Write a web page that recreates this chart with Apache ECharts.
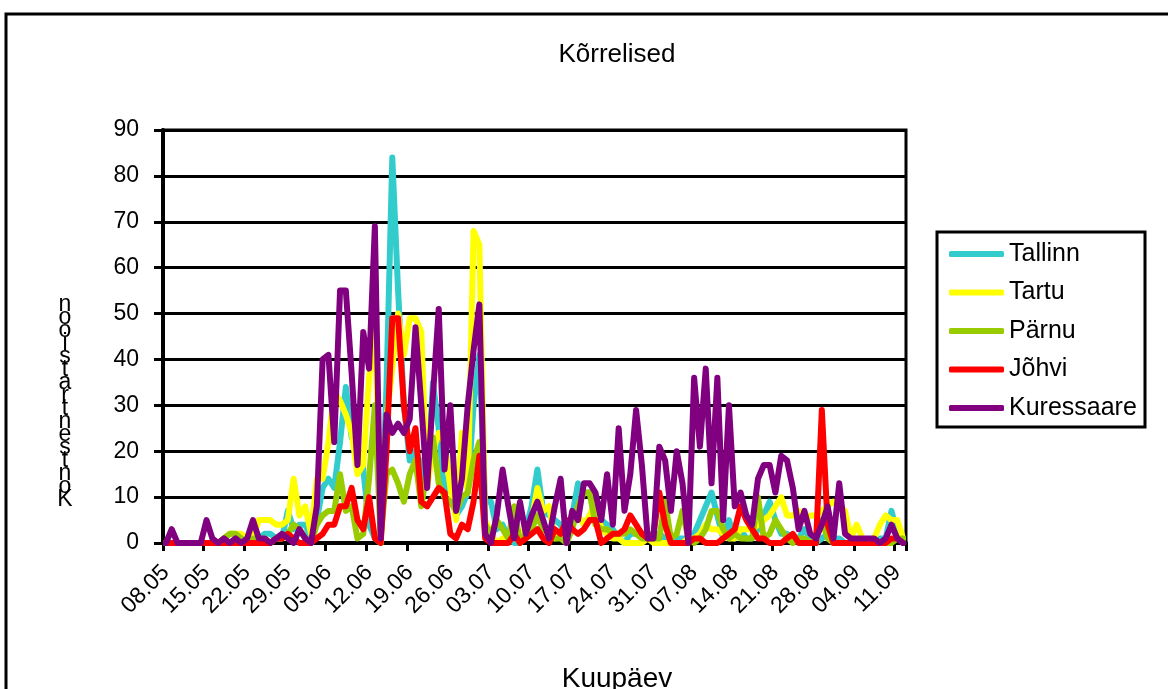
<!DOCTYPE html>
<html>
<head>
<meta charset="utf-8">
<script src="https://cdn.jsdelivr.net/npm/echarts@6/dist/echarts.min.js"></script>
<style>
  html, body { margin: 0; padding: 0; background: #fff; }
  #chart { width: 1168px; height: 689px; }
</style>
</head>
<body>
<div id="chart"></div>
<script>
// Daily grass pollen counts, 08.05 – 12.09
const firstDay = 8, firstMonth = 5, dayCount = 128;
const monthLengths = { 5: 31, 6: 30, 7: 31, 8: 31, 9: 30 };

const chartTitle = 'Kõrrelised';
const xAxisTitle = 'Kuupäev';
const yAxisTitle = 'Kontsentratsioon';
const yTicks = { min: 0, max: 90, step: 10 };

const seriesNames = ['Tallinn', 'Tartu', 'Pärnu', 'Jõhvi', 'Kuressaare'];
const seriesColors = ['#33CCCC', '#FFFF00', '#99CC00', '#FF0000', '#800080'];

const tallinn = [
  0, 0, 0, 0, 0, 0, 0, 0, 0, 0,
  0, 0, 1, 0, 0, 0, 1, 2, 2, 1,
  1, 7, 3, 4, 4, 1, 5, 12, 14, 12,
  22, 34, 23, 21, 16, 4, 1, 0, 34, 84,
  55, 30, 18, 20, 17, 12, 35, 25, 10, 16,
  6, 8, 11, 30, 41, 9, 9, 3, 4, 1,
  0, 0, 3, 8, 16, 7, 6, 5, 4, 1,
  6, 13, 11, 11, 8, 5, 4, 3, 1, 0,
  2, 2, 2, 2, 2, 2, 1, 1, 1, 1,
  1, 2, 5, 8, 11, 6, 1, 5, 1, 3,
  1, 1, 3, 6, 9, 5, 2, 2, 1, 1,
  3, 1, 0, 1, 2, 1, 1, 0, 0, 0,
  0, 0, 0, 1, 1, 7, 2, 0
];
const tartu = [
  0, 0, 0, 0, 0, 0, 0, 0, 0, 0,
  1, 2, 2, 2, 1, 1, 5, 5, 5, 4,
  4, 5, 14, 6, 8, 2, 14, 14, 22, 33,
  31, 28, 24, 15, 17, 36, 48, 0, 27, 38,
  50, 41, 49, 49, 46, 12, 20, 24, 22, 12,
  5, 24, 11, 68, 65, 5, 2, 0, 1, 1,
  1, 2, 3, 5, 12, 7, 8, 1, 2, 2,
  5, 6, 4, 6, 9, 3, 2, 1, 1, 0,
  0, 0, 0, 1, 0, 0, 0, 0, 0, 0,
  1, 1, 2, 4, 3, 3, 2, 1, 1, 3,
  3, 3, 4, 5, 6, 8, 10, 6, 6, 7,
  5, 6, 6, 7, 8, 9, 8, 7, 1, 4,
  1, 0, 1, 4, 6, 5, 5, 1
];
const parnu = [
  0, 0, 0, 0, 0, 0, 0, 0, 0, 0,
  1, 2, 2, 1, 0, 1, 1, 1, 0, 1,
  1, 2, 4, 3, 1, 0, 4, 6, 7, 7,
  15, 7, 8, 1, 2, 14, 30, 1, 15, 16,
  13, 9, 15, 18, 8, 16, 23, 13, 10, 9,
  7, 10, 11, 18, 22, 4, 2, 5, 3, 1,
  8, 0, 2, 3, 6, 3, 2, 1, 1, 0,
  3, 8, 11, 11, 4, 3, 3, 2, 2, 2,
  3, 2, 1, 1, 1, 1, 9, 1, 2, 7,
  1, 0, 1, 3, 7, 7, 3, 1, 2, 1,
  1, 1, 10, 1, 2, 5, 3, 1, 0, 1,
  1, 0, 1, 5, 1, 0, 0, 0, 0, 0,
  0, 0, 0, 0, 0, 0, 1, 1
];
const johvi = [
  0, 0, 0, 0, 0, 0, 0, 0, 0, 0,
  0, 0, 0, 0, 0, 0, 0, 0, 0, 1,
  1, 2, 1, 0, 0, 0, 1, 2, 4, 4,
  8, 8, 12, 5, 3, 10, 1, 0, 20, 49,
  49, 30, 20, 25, 9, 8, 10, 12, 11, 2,
  1, 4, 3, 9, 19, 1, 0, 0, 0, 0,
  2, 0, 1, 2, 3, 1, 0, 3, 2, 5,
  3, 2, 3, 5, 5, 0, 1, 2, 2, 3,
  6, 4, 2, 1, 2, 11, 4, 0, 0, 0,
  0, 1, 1, 0, 0, 0, 1, 2, 3, 8,
  5, 3, 1, 1, 0, 0, 0, 1, 2, 0,
  0, 0, 0, 29, 4, 0, 0, 0, 0, 0,
  0, 0, 0, 0, 0, 1, 1, 0
];
const kuressaare = [
  0, 3, 0, 0, 0, 0, 0, 5, 1, 0,
  1, 0, 1, 0, 1, 5, 1, 1, 0, 1,
  2, 1, 0, 3, 1, 0, 8, 40, 41, 22,
  55, 55, 37, 17, 46, 38, 69, 1, 28, 24,
  26, 24, 27, 47, 30, 12, 32, 51, 16, 30,
  7, 14, 30, 42, 52, 2, 0, 6, 16, 8,
  1, 9, 2, 6, 9, 5, 1, 8, 14, 0,
  7, 5, 13, 13, 11, 5, 15, 4, 25, 7,
  15, 29, 17, 1, 1, 21, 18, 7, 20, 13,
  0, 36, 21, 38, 13, 36, 5, 30, 8, 11,
  6, 4, 14, 17, 17, 11, 19, 18, 12, 3,
  7, 2, 1, 4, 8, 1, 13, 2, 1, 1,
  1, 1, 1, 0, 1, 4, 1, 0
];
const seriesValues = [tallinn, tartu, parnu, johvi, kuressaare];

// dd.mm labels for every day of the season
const dates = [];
(function () {
  let d = firstDay, m = firstMonth;
  for (let i = 0; i < dayCount; i++) {
    dates.push(String(d).padStart(2, '0') + '.' + String(m).padStart(2, '0'));
    d++;
    if (d > monthLengths[m]) { d = 1; m++; }
  }
})();

const FONT = '"Liberation Sans", Arial, sans-serif';
const chart = echarts.init(document.getElementById('chart'), null, { renderer: 'canvas' });

chart.setOption({
  animation: false,
  backgroundColor: '#fff',
  grid: {
    left: 163, top: 130, width: 743, height: 413,
    show: true, borderColor: '#000', borderWidth: 3, backgroundColor: 'transparent'
  },
  xAxis: {
    type: 'category',
    data: dates,
    boundaryGap: true,
    axisLine: { lineStyle: { color: '#000', width: 4 } },
    axisTick: { show: true, interval: 6, length: 8, lineStyle: { color: '#000', width: 3 } },
    axisLabel: {
      interval: 6, rotate: 45, margin: 26,
      color: '#000', fontFamily: FONT, fontSize: 23
    },
    splitLine: { show: false }
  },
  yAxis: {
    type: 'value',
    min: yTicks.min, max: yTicks.max, interval: yTicks.step,
    axisLine: { show: true, lineStyle: { color: '#000', width: 4 } },
    axisTick: { show: true, length: 9, lineStyle: { color: '#000', width: 3 } },
    axisLabel: { margin: 24, color: '#000', fontFamily: FONT, fontSize: 23 },
    splitLine: { show: true, lineStyle: { color: '#000', width: 3 } }
  },
  legend: {
    orient: 'vertical',
    left: 949, top: 239,
    padding: 0,
    icon: 'roundRect',
    itemWidth: 55, itemHeight: 6, itemGap: 8.5,
    textStyle: { color: '#000', fontFamily: FONT, fontSize: 25, lineHeight: 30 },
    data: seriesNames
  },
  series: seriesNames.map((name, k) => ({
    name: name,
    type: 'line',
    data: seriesValues[k],
    symbol: 'none',
    smooth: false,
    z: 2 + k,
    color: seriesColors[k],
    itemStyle: { color: seriesColors[k] },
    lineStyle: { color: seriesColors[k], width: 6, cap: 'round', join: 'round' }
  })),
  graphic: [
    {
      type: 'rect', silent: true, z: 0,
      shape: { x: 6, y: 14, width: 1200, height: 720 },
      style: { fill: 'none', stroke: '#000', lineWidth: 3 }
    },
    {
      type: 'rect', silent: true, z: 1,
      shape: { x: 937, y: 232, width: 208, height: 195 },
      style: { fill: 'none', stroke: '#000', lineWidth: 3 }
    },
    {
      type: 'text', silent: true,
      x: 617, y: 55,
      style: {
        text: chartTitle, fill: '#000', font: '26px ' + FONT,
        textAlign: 'center', textVerticalAlign: 'middle'
      }
    },
    {
      type: 'text', silent: true,
      x: 617, y: 679,
      style: {
        text: xAxisTitle, fill: '#000', font: '28px ' + FONT,
        textAlign: 'center', textVerticalAlign: 'middle'
      }
    },
    {
      // letters stacked upright, reading upwards
      type: 'text', silent: true,
      x: 65, y: 402,
      style: {
        text: yAxisTitle.split('').reverse().join('\n'),
        fill: '#000', font: '23px ' + FONT, lineHeight: 13,
        textAlign: 'center', textVerticalAlign: 'middle'
      }
    }
  ]
});
</script>
</body>
</html>
